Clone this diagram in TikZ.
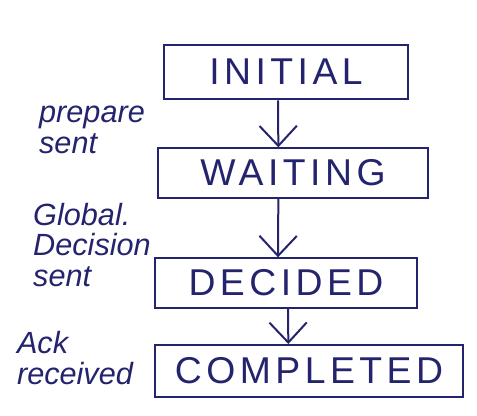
\documentclass[tikz,border=0pt]{standalone}
\usepackage{fontspec}
\setmainfont{Liberation Sans}
\usetikzlibrary{arrows.meta}
\definecolor{ink}{HTML}{24246E}
\begin{document}
\begin{tikzpicture}[x=0.75pt,y=-0.75pt,
  statebox/.style={draw=ink, line width=1.5pt, text=ink, inner sep=0pt,
    font=\fontsize{28}{30}\selectfont\addfontfeature{LetterSpace=12}},
  lbl/.style={text=ink, align=left, font=\fontsize{23}{23}\selectfont\itshape, inner sep=0pt},
  arr/.style={draw=ink, line width=1.5pt, -{Straight Barb[length=15pt,width=28pt,line width=1.5pt]}}]
\useasboundingbox (0,0) rectangle (477,416);
\node[statebox, minimum width=183pt, minimum height=41pt] (ini) at (286,72) {INITIAL};
\node[statebox, minimum width=202pt, minimum height=37pt] (wait) at (293,173) {WAITING};
\node[statebox, minimum width=196pt, minimum height=37pt] (dec) at (286,283) {DECIDED};
\node[statebox, minimum width=231pt, minimum height=39pt] (comp) at (309,371) {COMPLETED};
\node[lbl] (l1) at (92,130) {prepare\\sent};
\node[lbl] (l2) at (92,245) {Global.\\Decision\\sent};
\node[lbl] (l3) at (75,358) {Ack\\received};
\draw[arr] ([xshift=-6pt]ini.south) -- ([xshift=-11pt]wait.north);
\draw[arr] ([xshift=-11pt]wait.south) -- ([xshift=-6pt]dec.north);
\draw[arr] ([xshift=1.5pt]dec.south) -- ([xshift=-15.5pt]comp.north);
\end{tikzpicture}
\end{document}
